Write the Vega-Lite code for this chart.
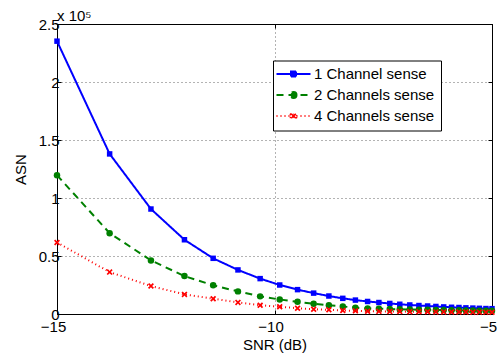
{
  "$schema": "https://vega.github.io/schema/vega-lite/v6.json",
  "width": 435,
  "height": 290,
  "autosize": {"type": "none"},
  "padding": {"left": 57, "top": 24, "right": 6, "bottom": 46},
  "background": "white",
  "title": {"text": "x 10⁵", "anchor": "start", "frame": "group", "fontSize": 15, "fontWeight": "normal", "font": "Liberation Sans", "offset": 4, "dy": 11, "color": "black"},
  "config": {
    "font": "Liberation Sans",
    "view": {"stroke": "black", "strokeWidth": 1},
    "axis": {
      "domainColor": "black",
      "tickColor": "black",
      "tickSize": -4,
      "labelColor": "black",
      "labelFont": "Liberation Sans",
      "labelFontSize": 15,
      "titleFont": "Liberation Sans",
      "titleFontSize": 15,
      "titleFontWeight": "normal",
      "titleColor": "black",
      "gridColor": "#666",
      "gridDash": [1, 3],
      "gridWidth": 1,
      "labelFlush": false,
      "labelBound": false,
      "labelOverlap": false
    },
    "legend": {
      "orient": "none",
      "legendX": 216,
      "legendY": 36.5,
      "direction": "vertical",
      "strokeColor": "black",
      "fillColor": "white",
      "padding": 6,
      "rowPadding": 5,
      "symbolOffset": 7,
      "symbolSize": 100,
      "labelOffset": 13,
      "labelFont": "Liberation Sans",
      "labelFontSize": 15,
      "labelColor": "black",
      "labelLimit": 300
    }
  },
  "data": {
    "values": [
      {"snr": -15, "asn": 235200, "series": "1 Channel sense"},
      {"snr": -13.79, "asn": 138000, "series": "1 Channel sense"},
      {"snr": -12.84, "asn": 90500, "series": "1 Channel sense"},
      {"snr": -12.07, "asn": 64000, "series": "1 Channel sense"},
      {"snr": -11.41, "asn": 48000, "series": "1 Channel sense"},
      {"snr": -10.84, "asn": 38000, "series": "1 Channel sense"},
      {"snr": -10.33, "asn": 30500, "series": "1 Channel sense"},
      {"snr": -9.88, "asn": 25000, "series": "1 Channel sense"},
      {"snr": -9.47, "asn": 21000, "series": "1 Channel sense"},
      {"snr": -9.10, "asn": 18000, "series": "1 Channel sense"},
      {"snr": -8.75, "asn": 15500, "series": "1 Channel sense"},
      {"snr": -8.43, "asn": 13500, "series": "1 Channel sense"},
      {"snr": -8.14, "asn": 12000, "series": "1 Channel sense"},
      {"snr": -7.86, "asn": 10800, "series": "1 Channel sense"},
      {"snr": -7.60, "asn": 9900, "series": "1 Channel sense"},
      {"snr": -7.35, "asn": 9100, "series": "1 Channel sense"},
      {"snr": -7.12, "asn": 8400, "series": "1 Channel sense"},
      {"snr": -6.89, "asn": 7800, "series": "1 Channel sense"},
      {"snr": -6.68, "asn": 7300, "series": "1 Channel sense"},
      {"snr": -6.48, "asn": 6900, "series": "1 Channel sense"},
      {"snr": -6.29, "asn": 6500, "series": "1 Channel sense"},
      {"snr": -6.11, "asn": 6100, "series": "1 Channel sense"},
      {"snr": -5.93, "asn": 5800, "series": "1 Channel sense"},
      {"snr": -5.76, "asn": 5600, "series": "1 Channel sense"},
      {"snr": -5.60, "asn": 5300, "series": "1 Channel sense"},
      {"snr": -5.44, "asn": 5100, "series": "1 Channel sense"},
      {"snr": -5.29, "asn": 4900, "series": "1 Channel sense"},
      {"snr": -5.14, "asn": 4700, "series": "1 Channel sense"},
      {"snr": -5.00, "asn": 4600, "series": "1 Channel sense"},
      {"snr": -15, "asn": 119600, "series": "2 Channels sense"},
      {"snr": -13.79, "asn": 69700, "series": "2 Channels sense"},
      {"snr": -12.84, "asn": 46200, "series": "2 Channels sense"},
      {"snr": -12.07, "asn": 32700, "series": "2 Channels sense"},
      {"snr": -11.41, "asn": 24700, "series": "2 Channels sense"},
      {"snr": -10.84, "asn": 19500, "series": "2 Channels sense"},
      {"snr": -10.33, "asn": 15200, "series": "2 Channels sense"},
      {"snr": -9.88, "asn": 12500, "series": "2 Channels sense"},
      {"snr": -9.47, "asn": 10500, "series": "2 Channels sense"},
      {"snr": -9.10, "asn": 8800, "series": "2 Channels sense"},
      {"snr": -8.75, "asn": 7600, "series": "2 Channels sense"},
      {"snr": -8.43, "asn": 6500, "series": "2 Channels sense"},
      {"snr": -8.14, "asn": 5500, "series": "2 Channels sense"},
      {"snr": -7.86, "asn": 4800, "series": "2 Channels sense"},
      {"snr": -7.60, "asn": 4500, "series": "2 Channels sense"},
      {"snr": -7.35, "asn": 4300, "series": "2 Channels sense"},
      {"snr": -7.12, "asn": 4100, "series": "2 Channels sense"},
      {"snr": -6.89, "asn": 3900, "series": "2 Channels sense"},
      {"snr": -6.68, "asn": 3700, "series": "2 Channels sense"},
      {"snr": -6.48, "asn": 3600, "series": "2 Channels sense"},
      {"snr": -6.29, "asn": 3500, "series": "2 Channels sense"},
      {"snr": -6.11, "asn": 3400, "series": "2 Channels sense"},
      {"snr": -5.93, "asn": 3300, "series": "2 Channels sense"},
      {"snr": -5.76, "asn": 3200, "series": "2 Channels sense"},
      {"snr": -5.60, "asn": 3100, "series": "2 Channels sense"},
      {"snr": -5.44, "asn": 3000, "series": "2 Channels sense"},
      {"snr": -5.29, "asn": 2900, "series": "2 Channels sense"},
      {"snr": -5.14, "asn": 2900, "series": "2 Channels sense"},
      {"snr": -5.00, "asn": 2800, "series": "2 Channels sense"},
      {"snr": -15, "asn": 61700, "series": "4 Channels sense"},
      {"snr": -13.79, "asn": 36100, "series": "4 Channels sense"},
      {"snr": -12.84, "asn": 24100, "series": "4 Channels sense"},
      {"snr": -12.07, "asn": 16900, "series": "4 Channels sense"},
      {"snr": -11.41, "asn": 13200, "series": "4 Channels sense"},
      {"snr": -10.84, "asn": 10000, "series": "4 Channels sense"},
      {"snr": -10.33, "asn": 7600, "series": "4 Channels sense"},
      {"snr": -9.88, "asn": 6200, "series": "4 Channels sense"},
      {"snr": -9.47, "asn": 5000, "series": "4 Channels sense"},
      {"snr": -9.10, "asn": 4100, "series": "4 Channels sense"},
      {"snr": -8.75, "asn": 3600, "series": "4 Channels sense"},
      {"snr": -8.43, "asn": 3000, "series": "4 Channels sense"},
      {"snr": -8.14, "asn": 2700, "series": "4 Channels sense"},
      {"snr": -7.86, "asn": 2400, "series": "4 Channels sense"},
      {"snr": -7.60, "asn": 2300, "series": "4 Channels sense"},
      {"snr": -7.35, "asn": 2200, "series": "4 Channels sense"},
      {"snr": -7.12, "asn": 2100, "series": "4 Channels sense"},
      {"snr": -6.89, "asn": 2000, "series": "4 Channels sense"},
      {"snr": -6.68, "asn": 1900, "series": "4 Channels sense"},
      {"snr": -6.48, "asn": 1900, "series": "4 Channels sense"},
      {"snr": -6.29, "asn": 1800, "series": "4 Channels sense"},
      {"snr": -6.11, "asn": 1800, "series": "4 Channels sense"},
      {"snr": -5.93, "asn": 1700, "series": "4 Channels sense"},
      {"snr": -5.76, "asn": 1700, "series": "4 Channels sense"},
      {"snr": -5.60, "asn": 1700, "series": "4 Channels sense"},
      {"snr": -5.44, "asn": 1600, "series": "4 Channels sense"},
      {"snr": -5.29, "asn": 1600, "series": "4 Channels sense"},
      {"snr": -5.14, "asn": 1600, "series": "4 Channels sense"},
      {"snr": -5.00, "asn": 1500, "series": "4 Channels sense"}
    ]
  },
  "layer": [
    {
      "mark": {"type": "line"},
      "encoding": {
        "x": {
          "field": "snr", "type": "quantitative",
          "scale": {"domain": [-15, -5], "nice": false, "zero": false},
          "axis": {"title": "SNR (dB)", "values": [-15, -10, -5], "labelPadding": 9, "labelOffset": -4, "titleBaseline": "alphabetic", "titleY": 35.5, "grid": true}
        },
        "y": {
          "field": "asn", "type": "quantitative",
          "scale": {"domain": [0, 250000], "nice": false, "zero": true},
          "axis": {"title": "ASN", "values": [0, 50000, 100000, 150000, 200000, 250000], "labelExpr": "format(datum.value / 100000, '~g')", "labelPadding": 2, "titleBaseline": "alphabetic", "titleX": -31.5, "grid": true}
        },
        "color": {
          "field": "series", "type": "nominal",
          "scale": {"domain": ["1 Channel sense", "2 Channels sense", "4 Channels sense"], "range": ["#0000ff", "#008000", "#ff0000"]},
          "legend": {
            "title": null,
            "encode": {
              "symbols": {
                "update": {
                  "shape": {"signal": "datum.value == '1 Channel sense' ? 'M-3.4,0H3.4M-0.5,-0.5H0.5V0.5H-0.5Z' : datum.value == '2 Channels sense' ? 'M-3.4,0H3.4M0.6,0A0.6,0.6,0,1,1,-0.6,0A0.6,0.6,0,1,1,0.6,0Z' : 'M-3.4,0H3.4M-0.55,-0.33L-0.33,-0.55L0,-0.22L0.33,-0.55L0.55,-0.33L0.22,0L0.55,0.33L0.33,0.55L0,0.22L-0.33,0.55L-0.55,0.33L-0.22,0Z'"},
                  "size": {"value": 100},
                  "fill": {"signal": "scale('color', datum.value)"},
                  "stroke": {"signal": "scale('color', datum.value)"},
                  "strokeDash": {"signal": "datum.value == '2 Channels sense' ? [6, 5] : datum.value == '4 Channels sense' ? [1, 3] : [1, 0]"},
                  "strokeWidth": {"signal": "datum.value == '4 Channels sense' ? 1 : 2"},
                  "opacity": {"value": 1}
                }
              }
            }
          }
        },
        "strokeDash": {
          "field": "series", "type": "nominal",
          "scale": {"domain": ["1 Channel sense", "2 Channels sense", "4 Channels sense"], "range": [[1, 0], [7, 5], [1, 3]]},
          "legend": null
        },
        "strokeWidth": {
          "field": "series", "type": "nominal",
          "scale": {"domain": ["1 Channel sense", "2 Channels sense", "4 Channels sense"], "range": [2, 2, 1]},
          "legend": null
        }
      }
    },
    {
      "transform": [{"filter": {"field": "series", "equal": "1 Channel sense"}}],
      "mark": {"type": "point", "filled": true, "opacity": 1, "shape": "square", "size": 30, "color": "#0000ff"},
      "encoding": {
        "x": {"field": "snr", "type": "quantitative", "axis": null},
        "y": {"field": "asn", "type": "quantitative", "axis": null}
      }
    },
    {
      "transform": [{"filter": {"field": "series", "equal": "2 Channels sense"}}],
      "mark": {"type": "point", "filled": true, "opacity": 1, "shape": "circle", "size": 42, "color": "#008000"},
      "encoding": {
        "x": {"field": "snr", "type": "quantitative", "axis": null},
        "y": {"field": "asn", "type": "quantitative", "axis": null}
      }
    },
    {
      "transform": [{"filter": {"field": "series", "equal": "4 Channels sense"}}],
      "mark": {"type": "point", "filled": true, "opacity": 1, "shape": "M-1,-0.6L-0.6,-1L0,-0.4L0.6,-1L1,-0.6L0.4,0L1,0.6L0.6,1L0,0.4L-0.6,1L-1,0.6L-0.4,0Z", "size": 36, "color": "#ff0000"},
      "encoding": {
        "x": {"field": "snr", "type": "quantitative", "axis": null},
        "y": {"field": "asn", "type": "quantitative", "axis": null}
      }
    },
    {
      "mark": {"type": "point", "opacity": 0},
      "encoding": {
        "x": {
          "field": "snr", "type": "quantitative",
          "axis": {"orient": "top", "title": null, "labels": false, "grid": false, "values": [-15, -10, -5]}
        },
        "y": {
          "field": "asn", "type": "quantitative",
          "axis": {"orient": "right", "title": null, "labels": false, "grid": false, "values": [0, 50000, 100000, 150000, 200000, 250000]}
        }
      }
    }
  ],
  "resolve": {"axis": {"x": "independent", "y": "independent"}}
}
